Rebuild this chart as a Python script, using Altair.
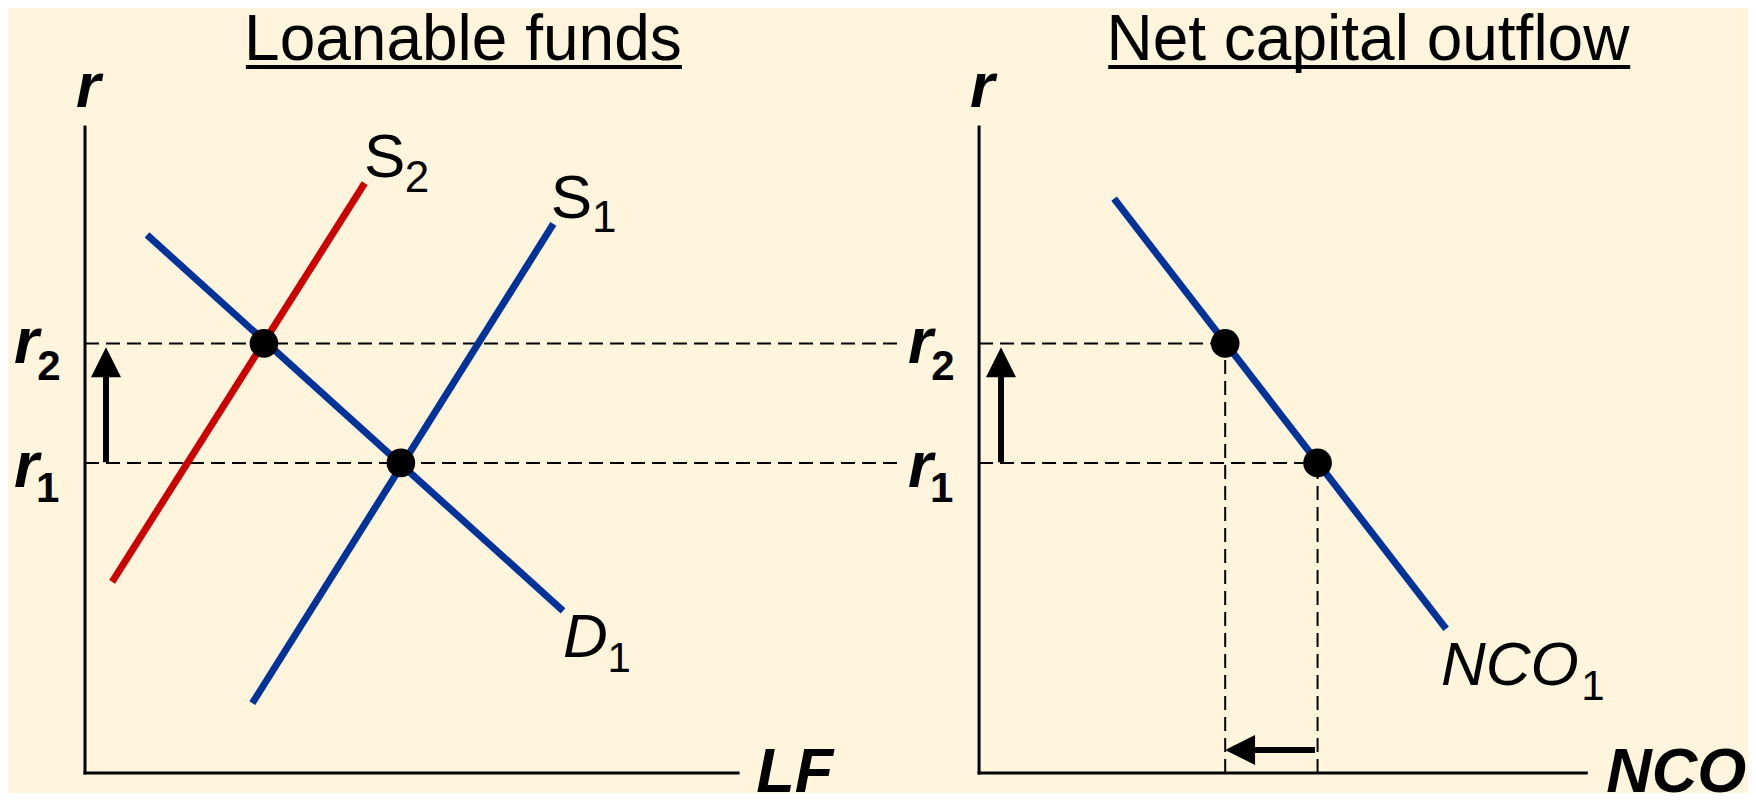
import altair as alt
import pandas as pd

# ---------------- data (diagram units; both panels share one scale) ----------------
NCO_X0 = 138.4          # where the right panel's origin sits on the shared x scale

# Left panel: market for loanable funds
s2_lf = [4.2, 43.3];  s2_r = [29.6, 91.3]
s1_lf = [25.9, 72.5]; s1_r = [10.8, 85.0]
d1_lf = [9.6, 74.0];  d1_r = [83.3, 25.1]
eq_lf = [27.7, 48.9]; eq_r = [66.5, 48.0]
r_levels = [66.5, 48.0]            # r2, r1
lf_axis_end = 101.1
r_axis_top = 100.0
dash_end = 126.2

# Right panel: net capital outflow
nco_q = [20.9, 72.3]; nco_r = [88.9, 22.3]
nco_pts_q = [38.1, 52.4]; nco_pts_r = [66.5, 48.0]
nco_axis_end = 94.0

# arrows
up_arrow_x = [3.25, NCO_X0 + 3.4]
up_arrow_from = 48.1
up_arrow_head = 63.6
left_arrow_y = 3.56
left_arrow_head = NCO_X0 + 40.4
left_arrow_tail = NCO_X0 + 52.0

# texts
titles = ["Loanable funds", "Net capital outflow"]
title_x = [58.5, NCO_X0 + 60.2]
title_y = [110.4, 110.4]
underline_x = [24.9, NCO_X0 + 20.0]
underline_x2 = [92.4, NCO_X0 + 100.8]
underline_y = 109.3

axis_names = ["r", "LF", "r", "NCO"]
axis_name_x = [-1.4, 103.9, NCO_X0 - 1.4, NCO_X0 + 97.1]
axis_name_y = [103.1, -2.9, 103.1, -2.9]

rlab_x = [-11.0, -11.0, NCO_X0 - 11.0, NCO_X0 - 11.0]
rlab_y = [63.5, 44.3, 63.5, 44.3]
rsub = ["2", "1", "2", "1"]
rsub_x = [-7.4, -7.6, NCO_X0 - 7.4, NCO_X0 - 7.6]
rsub_y = [60.8, 42.0, 60.8, 42.0]

s_lab_x = [43.2, 72.1]; s_lab_y = [92.3, 85.9]
s_sub = ["2", "1"]; s_sub_x = [49.5, 78.5]; s_sub_y = [89.9, 83.7]
it_lab = ["D", "NCO"]; it_lab_x = [74.0, NCO_X0 + 71.5]; it_lab_y = [18.0, 13.6]
it_sub = ["1", "1"]; it_sub_x = [80.9, NCO_X0 + 93.2]; it_sub_y = [15.6, 11.3]

BLUE = "#003399"
RED = "#CC0000"
BG = "#FFF5DC"
FONT = "Liberation Sans"

# ---------------- tables ----------------
xs = alt.Scale(domain=[-11.92, 257.43], nice=False, zero=False)
ys = alt.Scale(domain=[-3.10, 118.42], nice=False, zero=False)


def seg_enc():
    return dict(
        x=alt.X("x:Q", scale=xs, axis=None),
        y=alt.Y("y:Q", scale=ys, axis=None),
        x2="x2:Q",
        y2="y2:Q",
    )


curves = pd.DataFrame([
    dict(x=s2_lf[0], y=s2_r[0], x2=s2_lf[1], y2=s2_r[1], c=RED),
    dict(x=s1_lf[0], y=s1_r[0], x2=s1_lf[1], y2=s1_r[1], c=BLUE),
    dict(x=d1_lf[0], y=d1_r[0], x2=d1_lf[1], y2=d1_r[1], c=BLUE),
    dict(x=NCO_X0 + nco_q[0], y=nco_r[0], x2=NCO_X0 + nco_q[1], y2=nco_r[1], c=BLUE),
])

axes = pd.DataFrame([
    dict(x=0, y=0, x2=0, y2=r_axis_top),
    dict(x=0, y=0, x2=lf_axis_end, y2=0),
    dict(x=NCO_X0, y=0, x2=NCO_X0, y2=r_axis_top),
    dict(x=NCO_X0, y=0, x2=NCO_X0 + nco_axis_end, y2=0),
])

dash_rows = []
for r in r_levels:
    dash_rows.append(dict(x=0, y=r, x2=dash_end, y2=r))
for q, r in zip(nco_pts_q, nco_pts_r):
    dash_rows.append(dict(x=NCO_X0, y=r, x2=NCO_X0 + q, y2=r))
    dash_rows.append(dict(x=NCO_X0 + q, y=0, x2=NCO_X0 + q, y2=r))
dashes = pd.DataFrame(dash_rows)

shafts = pd.DataFrame(
    [dict(x=ax, y=up_arrow_from, x2=ax, y2=up_arrow_head) for ax in up_arrow_x]
    + [dict(x=left_arrow_head, y=left_arrow_y, x2=left_arrow_tail, y2=left_arrow_y)]
)
heads_up = pd.DataFrame(dict(x=up_arrow_x, y=[up_arrow_head] * 2))
heads_left = pd.DataFrame(dict(x=[left_arrow_head], y=[left_arrow_y]))

points = pd.DataFrame(dict(
    x=eq_lf + [NCO_X0 + q for q in nco_pts_q],
    y=eq_r + nco_pts_r,
))

underlines = pd.DataFrame(dict(x=underline_x, x2=underline_x2,
                               y=[underline_y] * 2, y2=[underline_y] * 2))


def txt(df, size, style="normal", weight="normal", align="left"):
    return alt.Chart(df).mark_text(
        font=FONT, fontSize=size, fontStyle=style, fontWeight=weight,
        align=align, baseline="alphabetic", color="black",
    ).encode(
        x=alt.X("x:Q", scale=xs, axis=None),
        y=alt.Y("y:Q", scale=ys, axis=None),
        text="t:N",
    )


t_titles = pd.DataFrame(dict(t=titles, x=title_x, y=title_y))
t_axis = pd.DataFrame(dict(t=axis_names, x=axis_name_x, y=axis_name_y))
t_r = pd.DataFrame(dict(t=["r"] * 4, x=rlab_x, y=rlab_y))
t_rsub = pd.DataFrame(dict(t=rsub, x=rsub_x, y=rsub_y))
t_s = pd.DataFrame(dict(t=["S", "S"], x=s_lab_x, y=s_lab_y))
t_ssub = pd.DataFrame(dict(t=s_sub, x=s_sub_x, y=s_sub_y))
t_it = pd.DataFrame(dict(t=it_lab, x=it_lab_x, y=it_lab_y))
t_itsub = pd.DataFrame(dict(t=it_sub, x=it_sub_x, y=it_sub_y))

# ---------------- layers ----------------
dash_layer = alt.Chart(dashes).mark_rule(
    color="black", strokeWidth=2, strokeDash=[14, 7]).encode(**seg_enc())
axis_layer = alt.Chart(axes).mark_rule(
    color="black", strokeWidth=3, strokeCap="square").encode(**seg_enc())
curve_layer = alt.Chart(curves).mark_rule(
    strokeWidth=7, strokeCap="butt").encode(
    color=alt.Color("c:N", scale=None), **seg_enc())
shaft_layer = alt.Chart(shafts).mark_rule(
    color="black", strokeWidth=6, strokeCap="butt").encode(**seg_enc())
head_up_layer = alt.Chart(heads_up).mark_point(
    shape="M0,-1L1,1L-1,1Z", size=900, filled=True, opacity=1,
    color="black", strokeWidth=0).encode(
    x=alt.X("x:Q", scale=xs, axis=None), y=alt.Y("y:Q", scale=ys, axis=None))
head_left_layer = alt.Chart(heads_left).mark_point(
    shape="M-1,0L1,-1L1,1Z", size=900, filled=True, opacity=1,
    color="black", strokeWidth=0).encode(
    x=alt.X("x:Q", scale=xs, axis=None), y=alt.Y("y:Q", scale=ys, axis=None))
point_layer = alt.Chart(points).mark_circle(
    size=820, color="black", opacity=1).encode(
    x=alt.X("x:Q", scale=xs, axis=None), y=alt.Y("y:Q", scale=ys, axis=None))
underline_layer = alt.Chart(underlines).mark_rule(
    color="black", strokeWidth=4, strokeCap="butt").encode(**seg_enc())

chart = alt.layer(
    dash_layer,
    axis_layer,
    curve_layer,
    shaft_layer,
    head_up_layer,
    head_left_layer,
    point_layer,
    underline_layer,
    txt(t_titles, 64, align="center"),
    txt(t_axis, 63, style="italic", weight="bold"),
    txt(t_r, 64, style="italic", weight="bold"),
    txt(t_rsub, 42, weight="bold"),
    txt(t_s, 62),
    txt(t_ssub, 44),
    txt(t_it, 62, style="italic"),
    txt(t_itsub, 42),
).properties(
    width=1740,
    height=785,
    padding=0,
    autosize=alt.AutoSizeParams(type="none"),
    background=BG,
).configure_view(stroke=None)

chart.save("out.html", embed_options={"renderer": "svg", "actions": False})
